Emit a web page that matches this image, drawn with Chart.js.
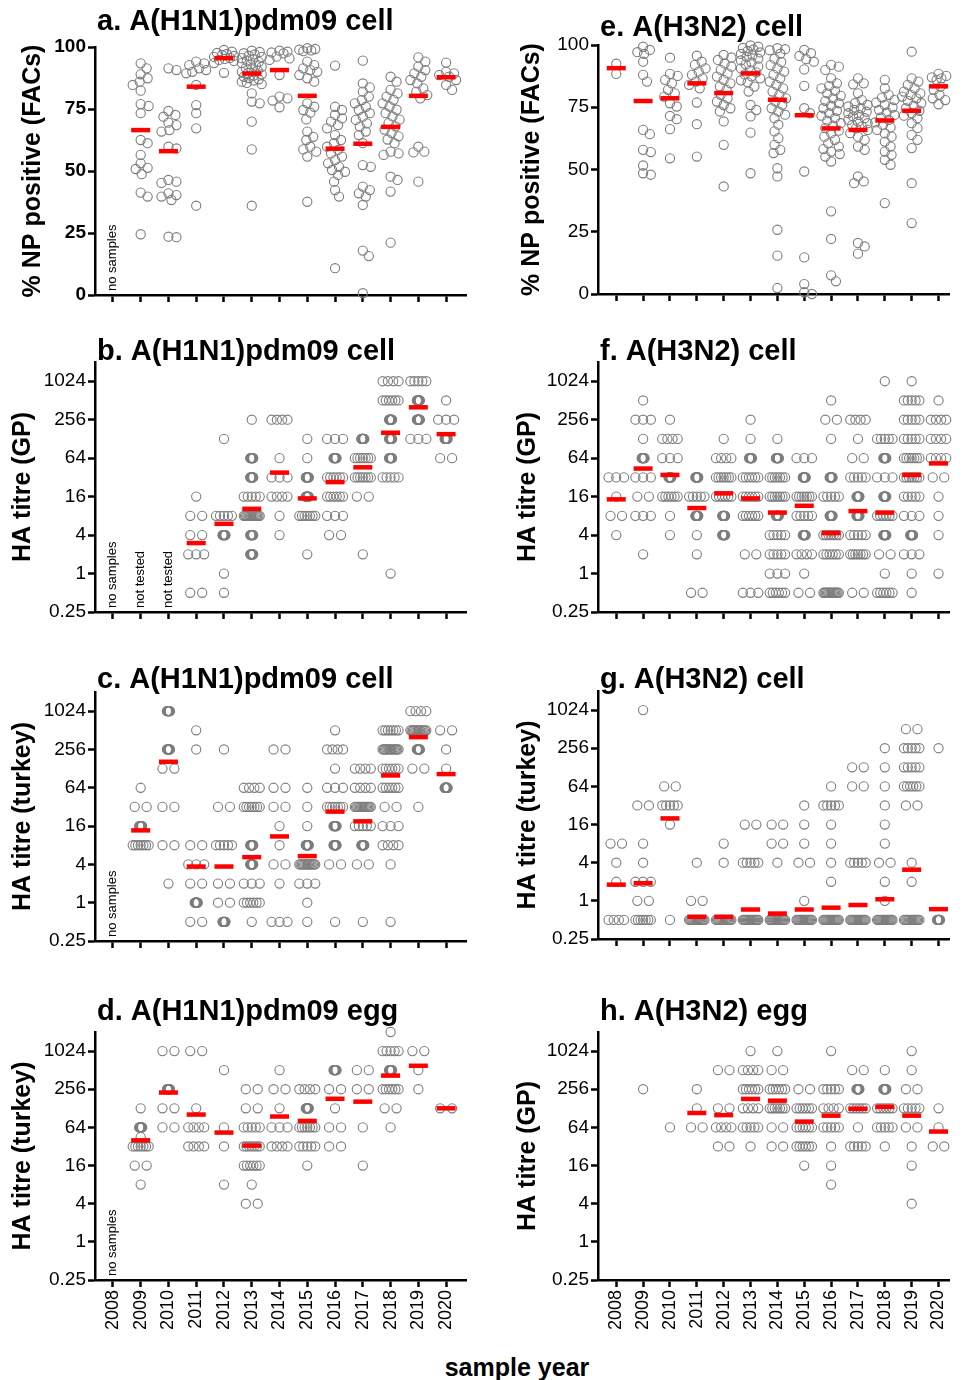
<!DOCTYPE html>
<html>
<head>
<meta charset="utf-8">
<script src="https://cdn.jsdelivr.net/npm/chart.js@4.4.1/dist/chart.umd.min.js"></script>
<style>
body { margin:0; background:#fff; width:963px; height:1380px; overflow:hidden; position:relative; font-family:'Liberation Sans', Arial, sans-serif; }
canvas { position:absolute; }
#xlab { position:absolute; left:417px; width:200px; top:1352px; text-align:center; font-weight:bold; font-size:25px; line-height:30px; color:#000; }
</style>
</head>
<body>
<div id="xlab">sample year</div>
<script>
// sample years, one column each
const YEARS = [2008, 2009, 2010, 2011, 2012, 2013, 2014, 2015, 2016, 2017, 2018, 2019, 2020];
const NP_TICKS = [0, 25, 50, 75, 100];
const TITRE_TICKS = [0.25, 1, 4, 16, 64, 256, 1024];

// % NP positive, single values per year
const npH1Cell = [
  [],
  [93.4, 91.4, 89, 87.4, 86, 84.7, 82.4, 77, 76.2, 73.3, 62.5, 61.2, 56.5, 53.1, 51.3, 50.8, 48.7, 41.3, 39.7, 24.5],
  [91.4, 90.7, 74.2, 72.6, 71.9, 69.5, 68.5, 66.5, 65.9, 59.8, 59.1, 46.4, 45.7, 45.2, 41, 40.3, 39.7, 38.3, 23.5, 23.3],
  [94.1, 93.4, 92.7, 91.4, 90.7, 90, 89.4, 84.7, 76.6, 73.3, 67.2, 36],
  [98.8, 98.1, 97.6, 97.2, 96.8, 96.4, 96, 95.6, 95.2, 94.8, 94.4, 93.5, 89.6],
  [98.5, 98, 97.5, 97, 96.5, 96, 95.5, 95, 94.5, 94, 93.5, 93, 92.5, 92, 91.5, 91, 90.5, 90, 89.5, 89, 88.5, 88, 87.5, 87, 86.5, 86, 85.5, 85, 81.3, 78, 77.3, 69.9, 58.7, 36],
  [98.5, 98.1, 97.8, 97.4, 96.1, 95.4, 94.8, 88.7, 80, 79.3, 78.4, 75.7],
  [99.5, 99.2, 98.9, 98.6, 98.3, 94.1, 92.7, 91.4, 90.7, 90, 88.7, 87.4, 86, 77.3, 75.9, 74.6, 73.5, 70.8, 65.9, 63.8, 62.5, 59.8, 58.7, 57.8, 55.8, 37.6],
  [92.5, 75.9, 74.6, 72.6, 71.2, 69.9, 68.5, 67.2, 64.5, 62.5, 61.2, 59.8, 58.5, 57.1, 55.8, 54.4, 53.1, 51.7, 50.4, 49.7, 48.4, 45.7, 42.3, 39.7, 10.8],
  [94.5, 85.3, 83.7, 82, 80, 78.6, 77.3, 75.9, 74.6, 73.3, 71.9, 70.6, 69.2, 67.9, 65.9, 64.5, 61.2, 52.4, 51.7, 43.7, 42.3, 41, 39.7, 36.3, 17.9, 15.7, 0.7],
  [88, 86, 82.7, 81.3, 80, 78.7, 77.3, 76, 74.7, 73.3, 72, 70.7, 69.3, 68, 66.7, 65.3, 64, 62.7, 61.2, 57.8, 57.1, 56.5, 47.7, 46.4, 41.7, 21.1],
  [95.8, 94.1, 92.1, 90.7, 89.4, 88, 86.7, 85.3, 83.3, 82, 80.6, 79.3, 59.8, 57.8, 57.5, 45.7],
  [93.7, 90, 89.4, 88.7, 88, 86.7, 84.7, 82.7]
];
const npH1CellMed = [null, 66.5, 58, 84, 95.5, 89.3, 90.7, 80.3, 59, 61, 67.8, 80.3, 87.8];

const npH3Cell = [
  [92.5, 88.4],
  [99.3, 98, 97.1, 96.4, 93.3, 88, 85.3, 65.9, 64.2, 57.9, 57, 51.6, 48.5, 47.9],
  [94.9, 88.4, 87.6, 86, 84.6, 82, 80.6, 79.3, 76.6, 75.3, 71.5, 70.2, 66.2, 54.5],
  [95.7, 93.3, 92, 90.6, 89.3, 88, 86.6, 85.3, 84, 82.6, 76.9, 68.2, 55.2],
  [96, 95, 94, 92.6, 91.3, 90, 88.6, 87.3, 86, 84.6, 83.3, 82, 80, 78.6, 77.3, 75.9, 74.6, 73.3, 69.3, 59.9, 43.2],
  [99.8, 99.3, 98.8, 98.2, 97.6, 97, 96.4, 95.8, 95.2, 94.5, 93.8, 93, 92.2, 91.4, 90.6, 89.8, 89, 88.2, 87.4, 86.6, 85.8, 85, 83.3, 81.3, 75.9, 73.9, 71.3, 64.8, 48.5],
  [98.7, 98.3, 97.9, 96.5, 94.5, 93.2, 91.9, 90.6, 89.3, 88, 86.6, 85.3, 84, 82.6, 81.3, 80, 78.6, 77.3, 76, 74.6, 73.3, 72, 70.6, 68, 65.3, 62.6, 59.9, 57.9, 56.6, 50.5, 47.2, 25.8, 15.4, 2.4],
  [98, 96.7, 95.6, 94.3, 93.3, 90.2, 83.6, 74.6, 72.6, 49.2, 14.7, 4, 0.7, 0],
  [92, 91.3, 90, 86.6, 84.6, 83.6, 82.6, 81.6, 80.6, 79.6, 78.6, 77.6, 76.6, 75.6, 74.6, 73.6, 72.6, 71.6, 70.6, 69.6, 68.6, 67.6, 66.6, 65.6, 64.6, 63.2, 61.9, 60.5, 59.2, 58.2, 57.2, 56.2, 55.2, 53.2, 33.2, 22.1, 7.5, 5.1],
  [86.6, 84.6, 84.2, 80.6, 77.9, 76.6, 75.9, 75.3, 74.6, 73.9, 73.2, 72.6, 71.9, 71.3, 70.6, 69.9, 69.2, 68.6, 67.9, 67.2, 66.5, 65.9, 64.6, 63.2, 61.9, 59.2, 57.9, 47.2, 45.2, 44.5, 20.5, 19.1, 16.2],
  [86, 82.6, 80, 78.9, 77.9, 76.9, 75.9, 74.9, 73.9, 72.9, 71.9, 70.9, 69.9, 68.9, 67.9, 66.9, 65.9, 64.5, 63.2, 61.2, 59.2, 57.2, 55.9, 53.9, 51.9, 36.5],
  [97.3, 86.6, 85.3, 84, 82.6, 81.3, 80.6, 80, 79.3, 78.6, 77.6, 76.6, 75.6, 74.6, 73.6, 72.6, 71.6, 70.6, 68.6, 66.6, 63.9, 61.9, 58.6, 44.5, 28.5],
  [88.4, 87.6, 87, 86.6, 86, 83.3, 82, 80, 78.6, 77.9, 76.2]
];
const npH3CellMed = [90.7, 77.5, 78.6, 84.6, 80.7, 88.6, 78, 71.8, 66.5, 65.9, 69.7, 73.6, 83.4];

// HA titres: [titre, number of samples] per year
const gpH1Cell = [
  [], [], [],
  [[16,1],[8,2],[4,2],[2,3],[0.5,2]],
  [[128,1],[8,5],[4,9],[1,1],[0.5,1]],
  [[256,1],[64,9],[32,9],[16,5],[8,14],[4,9],[2,9]],
  [[256,4],[64,1],[32,3],[16,4],[8,1],[4,1]],
  [[128,1],[64,1],[32,9],[16,9],[8,7],[2,1]],
  [[128,3],[64,9],[32,6],[16,6],[8,3],[4,2]],
  [[128,9],[64,7],[32,7],[16,2],[2,1]],
  [[1024,4],[512,6],[256,9],[128,9],[64,9],[32,5],[1,1]],
  [[1024,5],[512,9],[256,9],[128,3]],
  [[512,1],[256,3],[128,9],[64,2]]
];
const gpH1CellMed = [null, null, null, 3, 6, 10.3, 38, 15, 27, 46, 160, 400, 152];

const gpH3Cell = [
  [[32,3],[16,1],[8,2],[4,1]],
  [[512,1],[256,3],[128,1],[64,9],[32,3],[16,2],[8,3],[2,1]],
  [[256,1],[128,4],[64,3],[32,9],[16,6],[8,1],[4,1]],
  [[32,9],[16,5],[8,9],[4,1],[2,1],[0.5,2]],
  [[128,1],[64,4],[32,7],[16,6],[8,9],[4,9]],
  [[256,1],[128,1],[64,9],[32,6],[16,6],[8,6],[2,2],[0.5,3]],
  [[128,1],[64,9],[32,7],[16,7],[8,9],[4,5],[2,5],[1,3],[0.5,6]],
  [[64,3],[32,9],[16,7],[8,5],[4,9],[2,4],[1,1],[0.5,2]],
  [[512,1],[256,2],[128,1],[32,9],[16,5],[8,9],[4,7],[2,6],[0.5,14]],
  [[256,4],[128,1],[64,2],[32,5],[16,9],[8,9],[4,5],[2,7],[0.5,2]],
  [[1024,1],[128,5],[64,9],[32,3],[16,9],[8,6],[4,9],[2,2],[1,1],[0.5,6]],
  [[1024,1],[512,5],[256,5],[128,5],[64,7],[32,7],[16,5],[8,3],[4,9],[2,3],[1,1],[0.5,1]],
  [[512,1],[256,4],[128,4],[64,4],[32,2],[16,1],[8,1],[4,1],[1,1]]
];
const gpH3CellMed = [14.5, 44, 35, 10.6, 18, 15, 9, 11.5, 4.3, 9.5, 9, 35, 53];

const trH1Cell = [
  [],
  [[64,1],[32,2],[16,9],[8,7]],
  [[1024,9],[256,9],[128,2],[32,2],[8,2],[2,1]],
  [[512,1],[256,1],[8,2],[4,3],[2,2],[1,9],[0.5,2]],
  [[256,1],[32,2],[8,5],[2,2],[1,2],[0.5,9]],
  [[64,4],[32,7],[8,9],[4,9],[2,3],[1,6],[0.5,1]],
  [[256,2],[64,2],[32,2],[16,1],[8,1],[4,2],[2,1],[0.5,3]],
  [[64,1],[32,1],[16,1],[8,9],[4,14],[2,3],[1,1],[0.5,1]],
  [[512,1],[256,4],[128,1],[64,3],[32,7],[16,9],[8,9],[4,2],[0.5,1]],
  [[128,4],[64,4],[32,14],[16,5],[8,9],[4,2],[0.5,1]],
  [[512,7],[256,14],[128,6],[64,6],[32,2],[16,3],[8,4],[4,1],[0.5,1]],
  [[1024,4],[512,14],[256,9],[128,2],[32,1]],
  [[512,2],[256,1],[128,1],[64,9]]
];
const trH1CellMed = [null, 13.7, 164, 3.7, 3.7, 5.2, 11, 5.4, 27, 19, 100, 400, 105];

const trH3Cell = [
  [[8,2],[4,1],[2,1],[0.5,4]],
  [[1024,1],[32,2],[8,1],[4,1],[2,3],[1,2],[0.5,7]],
  [[64,2],[32,5],[16,1],[0.5,1]],
  [[4,1],[1,2],[0.5,15]],
  [[8,1],[4,1],[0.5,15]],
  [[16,2],[4,5],[0.5,16]],
  [[16,2],[8,2],[4,1],[0.5,16]],
  [[32,1],[16,1],[8,1],[4,2],[1,1],[0.5,16]],
  [[64,1],[32,5],[16,1],[8,1],[4,1],[2,1],[0.5,16]],
  [[128,2],[64,2],[4,5],[0.5,16]],
  [[256,1],[128,1],[64,1],[32,1],[16,1],[8,1],[4,2],[2,1],[1,1],[0.5,16]],
  [[512,2],[256,5],[128,5],[64,6],[32,2],[4,1],[2,1],[0.5,14]],
  [[256,1],[0.5,9]]
];
const trH3CellMed = [1.8, 1.9, 20, 0.56, 0.56, 0.73, 0.63, 0.73, 0.78, 0.86, 1.06, 3.1, 0.74];

const trH1Egg = [
  [],
  [[128,1],[64,9],[45,1],[32,7],[16,2],[8,1]],
  [[1024,2],[256,9],[128,2],[64,2]],
  [[1024,2],[128,1],[64,4],[32,4]],
  [[512,1],[64,1],[32,1],[8,1]],
  [[256,2],[128,2],[64,5],[32,7],[16,6],[8,1],[4,2]],
  [[512,1],[256,2],[128,1],[64,3],[32,4]],
  [[256,4],[128,9],[64,7],[32,5],[16,1]],
  [[512,9],[256,2],[128,1],[64,2],[32,2]],
  [[512,2],[256,2],[64,1],[16,1]],
  [[2048,1],[1024,5],[512,9],[256,6],[128,2],[64,1]],
  [[1024,2],[512,1],[256,1]],
  [[128,2]]
];
const trH1EggMed = [null, 40, 227, 102, 53, 33, 95, 81, 181, 163, 420, 600, 128];

const gpH3Egg = [
  [],
  [[256,1]],
  [[64,1]],
  [[256,1],[128,1],[64,2]],
  [[512,2],[128,2],[64,4],[32,2]],
  [[1024,1],[512,4],[256,6],[128,4],[64,5],[32,1]],
  [[1024,1],[512,2],[256,6],[128,7],[64,2],[32,2]],
  [[256,2],[128,6],[64,6],[32,6],[16,1]],
  [[1024,1],[256,5],[128,4],[64,5],[32,1],[16,1],[8,1]],
  [[512,2],[256,9],[128,6],[64,1],[32,5]],
  [[512,1],[256,9],[128,6],[64,5],[32,1]],
  [[1024,1],[512,1],[256,2],[128,5],[64,2],[32,1],[16,1],[4,1]],
  [[128,1],[64,1],[32,2]]
];
const gpH3EggMed = [null, null, null, 108, 100, 180, 169, 79, 98, 126, 135, 98, 55];

const FONT = "'Liberation Sans', Arial, sans-serif";
const PX_PER_YEAR = 27.92;   // column spacing in px, used to spread points sideways
const MIN_GAP = 7.5;          // circles may overlap a bit, like the original
const MAX_OFF = 10;

// equal titres: spread side by side in a row
function rowPoints(table) {
  const pts = [];
  table.forEach((rows, i) => {
    rows.forEach(([v, n]) => {
      const span = n < 2 ? 0 : n <= 7 ? Math.min(12 * (n - 1), 16) : n <= 12 ? 3 : 16;
      for (let k = 0; k < n; k++) {
        const off = n < 2 ? 0 : -span / 2 + k * span / (n - 1);
        pts.push({x: YEARS[i] + off / PX_PER_YEAR, y: v});
      }
    });
  });
  return pts;
}

// continuous values: simple beeswarm, nudged sideways until they stop piling up
function swarmPoints(table, pxPerUnit) {
  const pts = [];
  table.forEach((vals, i) => {
    const placed = [];
    vals.forEach(v => {
      const py = v * pxPerUnit;
      let best = 0, bestGap = -1;
      for (let k = 0; k <= MAX_OFF * 2; k++) {
        const dx = (k % 2 ? 1 : -1) * Math.ceil(k / 2);
        let gap = Infinity;
        placed.forEach(p => { gap = Math.min(gap, Math.hypot(p.dx - dx, p.py - py)); });
        if (gap >= MIN_GAP) { best = dx; break; }
        if (gap > bestGap) { bestGap = gap; best = dx; }
      }
      placed.push({dx: best, py: py});
      pts.push({x: YEARS[i] + best / PX_PER_YEAR, y: v});
    });
  });
  return pts;
}

function medPoints(meds) {
  return meds.map((m, i) => m == null ? null : {x: YEARS[i], y: m}).filter(Boolean);
}

const LEFT = {left: 0, w: 480, yw: 95, padRight: 12, xmin: 2007.355, xmax: 2020.716};
const RIGHT = {left: 480, w: 483, yw: 118, padRight: 0, xmin: 2007.32, xmax: 2020.39};

const panels = [
  Object.assign({}, LEFT, {top: 0, h: 320, padTop: 47, xh: 25, kind: 'np', pts: swarmPoints(npH1Cell, 2.48), med: npH1CellMed,
    title: 'a. A(H1N1)pdm09 cell', titleY: 22, yTitle: '% NP positive (FACs)', yTitlePad: 18, bold: true, years: false, notes: [[2008, 'no samples']]}),
  Object.assign({}, RIGHT, {top: 0, h: 320, padTop: 45, xh: 26, kind: 'np', pts: swarmPoints(npH3Cell, 2.49), med: npH3CellMed,
    title: 'e. A(H3N2) cell', titleY: 28, yTitle: '% NP positive (FACs)', yTitlePad: 37, bold: false, years: false, notes: []}),
  Object.assign({}, LEFT, {top: 320, h: 330, padTop: 42, xh: 38, kind: 'titre', pts: rowPoints(gpH1Cell), med: gpH1CellMed,
    title: 'b. A(H1N1)pdm09 cell', titleY: 32, yTitle: 'HA titre (GP)', yTitlePad: 8, bold: false, years: false,
    notes: [[2008, 'no samples'], [2009, 'not tested'], [2010, 'not tested']]}),
  Object.assign({}, RIGHT, {top: 320, h: 330, padTop: 42, xh: 38, kind: 'titre', pts: rowPoints(gpH3Cell), med: gpH3CellMed,
    title: 'f. A(H3N2) cell', titleY: 32, yTitle: 'HA titre (GP)', yTitlePad: 33, bold: false, years: false, notes: []}),
  Object.assign({}, LEFT, {top: 650, h: 330, padTop: 42, xh: 39, kind: 'titre', pts: rowPoints(trH1Cell), med: trH1CellMed,
    title: 'c. A(H1N1)pdm09 cell', titleY: 30, yTitle: 'HA titre (turkey)', yTitlePad: 8, bold: false, years: false, notes: [[2008, 'no samples']]}),
  Object.assign({}, RIGHT, {top: 650, h: 330, padTop: 41, xh: 41, kind: 'titre', pts: rowPoints(trH3Cell), med: trH3CellMed,
    title: 'g. A(H3N2) cell', titleY: 30, yTitle: 'HA titre (turkey)', yTitlePad: 33, bold: false, years: false, notes: []}),
  Object.assign({}, LEFT, {top: 980, h: 370, padTop: 52, xh: 70, kind: 'titre', pts: rowPoints(trH1Egg), med: trH1EggMed,
    title: 'd. A(H1N1)pdm09 egg', titleY: 32, yTitle: 'HA titre (turkey)', yTitlePad: 8, bold: false, years: true, notes: [[2008, 'no samples']]}),
  Object.assign({}, RIGHT, {top: 980, h: 370, padTop: 52, xh: 70, kind: 'titre', pts: rowPoints(gpH3Egg), med: gpH3EggMed,
    title: 'h. A(H3N2) egg', titleY: 32, yTitle: 'HA titre (GP)', yTitlePad: 33, bold: false, years: true, notes: []})
];

// panel heading + "no samples"/"not tested" notes
function textPlugin(p) {
  return {
    id: 'panelText',
    afterDraw(chart) {
      const ctx = chart.ctx, area = chart.chartArea;
      ctx.save();
      ctx.fillStyle = '#000';
      ctx.textAlign = 'left';
      ctx.textBaseline = 'middle';
      ctx.font = 'bold 29px ' + FONT;
      ctx.fillText(p.title, area.left + 2, p.titleY);
      ctx.font = '13px ' + FONT;
      p.notes.forEach(([yr, txt]) => {
        ctx.save();
        ctx.translate(chart.scales.x.getPixelForValue(yr), area.bottom - 4);
        ctx.rotate(-Math.PI / 2);
        ctx.fillText(txt, 0, 0);
        ctx.restore();
      });
      ctx.restore();
    }
  };
}

panels.forEach(p => {
  const cv = document.createElement('canvas');
  cv.width = p.w; cv.height = p.h;
  cv.style.left = p.left + 'px'; cv.style.top = p.top + 'px';
  document.body.appendChild(cv);
  const np = p.kind === 'np';
  new Chart(cv, {
    type: 'scatter',
    data: {
      datasets: [
        {data: medPoints(p.med), pointStyle: 'line', pointRadius: 9.5, pointBorderWidth: 4.5,
         pointBorderColor: '#ff0000', pointBackgroundColor: '#ff0000', clip: false},
        {data: p.pts, pointStyle: 'circle', pointRadius: 4.6, pointBorderWidth: 1.1,
         pointBorderColor: '#7d7d7d', pointBackgroundColor: 'rgba(0,0,0,0)', clip: false}
      ]
    },
    options: {
      responsive: false,
      animation: false,
      events: [],
      devicePixelRatio: 1,
      layout: {padding: {top: p.padTop, left: 0, right: p.padRight, bottom: 0}},
      plugins: {legend: {display: false}, tooltip: {enabled: false}},
      scales: {
        x: {
          type: 'linear', min: p.xmin, max: p.xmax,
          afterBuildTicks: s => { s.ticks = YEARS.map(v => ({value: v})); },
          afterFit: s => { s.height = p.xh; s.paddingLeft = 0; s.paddingRight = 0; },
          border: {display: true, color: '#000', width: 2.5},
          grid: {drawOnChartArea: false, drawTicks: true, tickLength: 7, tickColor: '#000', tickWidth: 2.5},
          ticks: {display: p.years, autoSkip: false, minRotation: 90, maxRotation: 90, padding: 3, color: '#000',
                  font: {size: 18, family: FONT}, callback: v => String(v)}
        },
        y: {
          type: np ? 'linear' : 'logarithmic',
          min: np ? 0 : 0.25, max: np ? 100 : 2048,
          afterBuildTicks: s => { s.ticks = (np ? NP_TICKS : TITRE_TICKS).map(v => ({value: v})); },
          afterFit: s => { s.width = p.yw; s.paddingTop = 0; s.paddingBottom = 0; },
          border: {display: true, color: '#000', width: 2.5},
          grid: {drawOnChartArea: false, drawTicks: true, tickLength: 7, tickColor: '#000', tickWidth: 2.5},
          ticks: {padding: 2, color: '#000', font: {size: 19, family: FONT, weight: p.bold ? 'bold' : 'normal'},
                  callback: v => String(v)},
          title: {display: true, text: p.yTitle, color: '#000', font: {size: 25, weight: 'bold', family: FONT},
                  padding: {top: p.yTitlePad, bottom: 0}}
        }
      }
    },
    plugins: [textPlugin(p)]
  });
});
</script>
</body>
</html>
